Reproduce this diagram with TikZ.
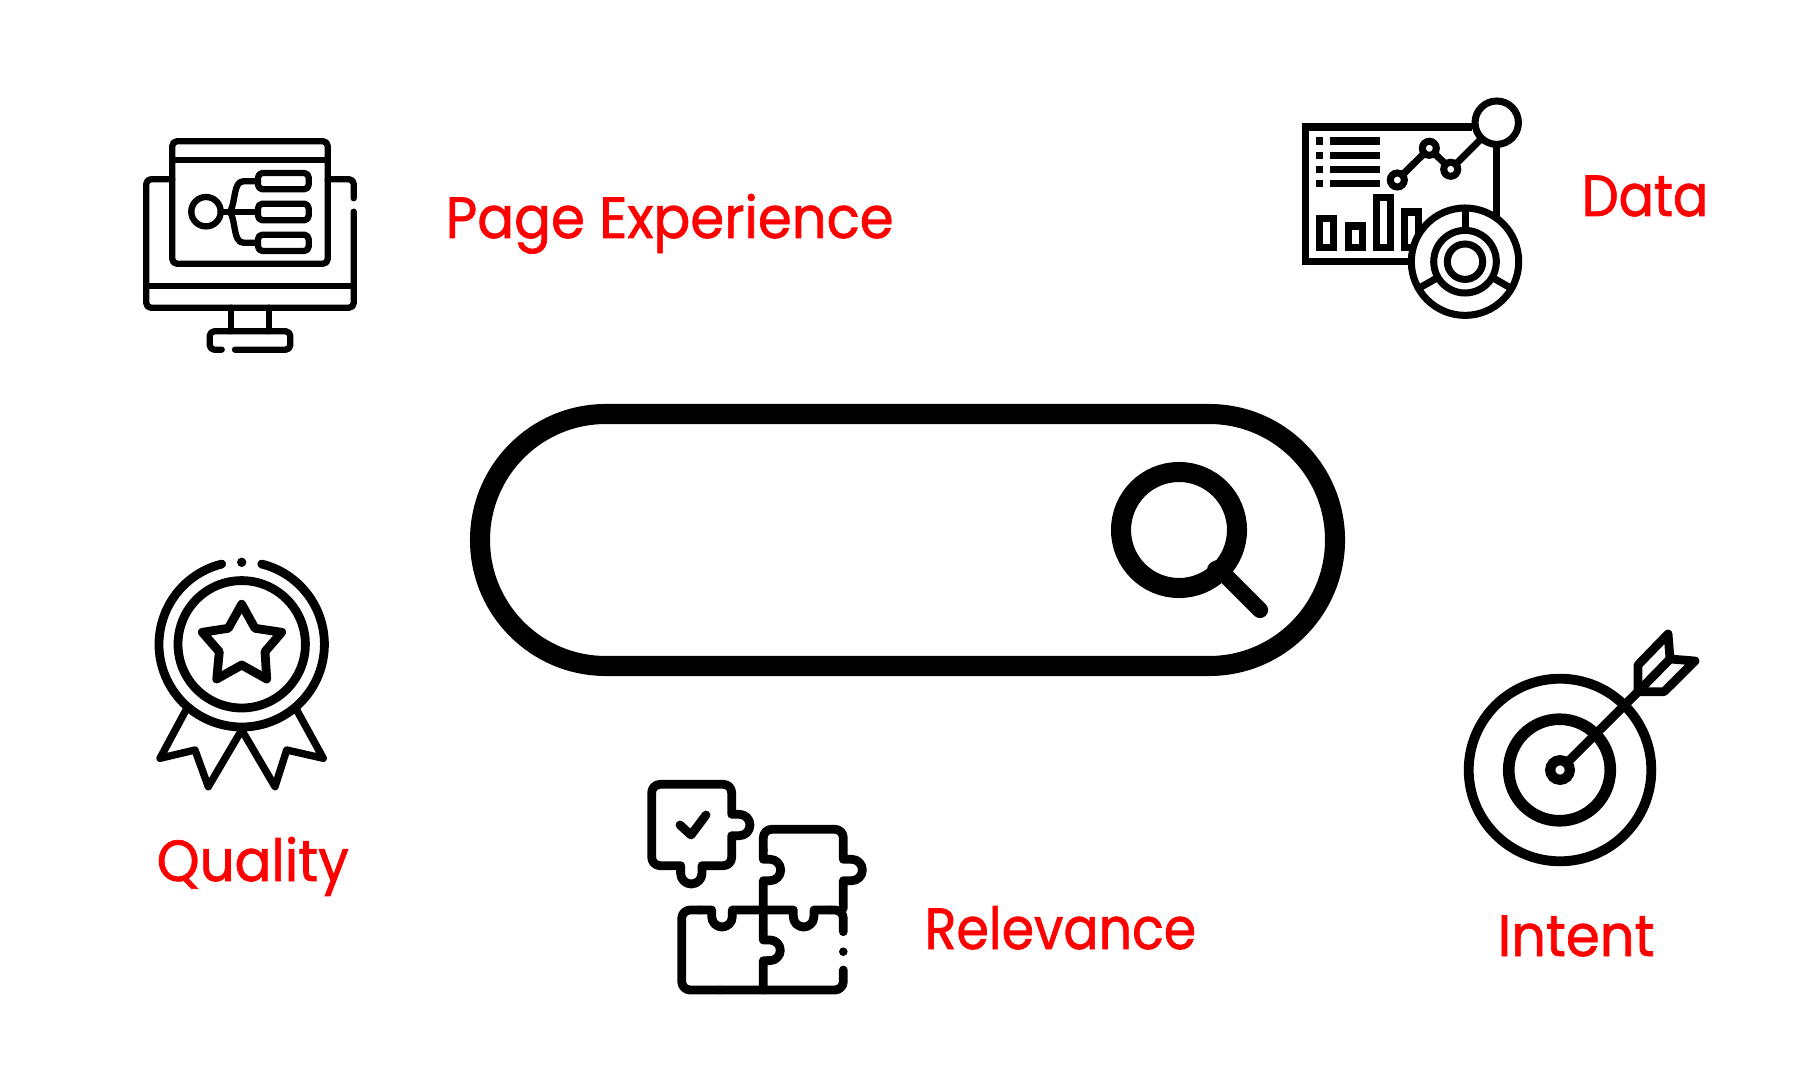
\documentclass[tikz,border=0pt]{standalone}
\usepackage{fontspec}
\newfontfamily\labelfont{Poppins}[FakeStretch=0.94,FakeBold=1.2]
\newfontfamily\narrowfont{Poppins}[FakeStretch=0.9,FakeBold=1.2]
\definecolor{labelred}{RGB}{254,0,0}
\tikzset{
  lbl/.style={text=labelred,font=\labelfont\fontsize{16.5}{20}\selectfont,inner sep=0pt,anchor=base west},
  narrow lbl/.style={lbl,font=\narrowfont\fontsize{16.5}{20}\selectfont},
  thin icon/.style={line width=1.8pt,line cap=round,line join=round,rounded corners=1.3pt},
  icon/.style={line width=2.5pt,line cap=round,line join=round},
  bar/.style={line width=2pt}
}
\begin{document}
\begin{tikzpicture}[x=0.01cm,y=-0.01cm]
  \useasboundingbox (0,0) rectangle (1816,1080);

  % search box
  \draw[line width=5.7pt,rounded corners=35.8pt] (480,414) rectangle (1335,666);
  \draw[line width=5.7pt] (1179,530) circle (58);
  \draw[line width=4.6pt,line cap=round] (1218,568) -- (1260,610);
  \fill (1216,570) circle (9);

  % page experience
  \draw[thin icon] (172.3,141.3) rectangle (327.7,263.7);
  \draw[thin icon] (172.3,160) -- (327.7,160);
  \draw[thin icon] (172.3,179.3) -- (146.3,179.3) -- (146.3,307.7) -- (353.7,307.7) -- (353.7,211.7);
  \draw[thin icon] (327.7,179.3) -- (353.7,179.3) -- (353.7,198.3);
  \draw[thin icon] (146.3,285.7) -- (353.7,285.7);
  \draw[thin icon] (231,307.7) -- (231,331.3);
  \draw[thin icon] (269,307.7) -- (269,331.3);
  \draw[thin icon] (221.7,349.7) -- (209.7,349.7) -- (209.7,331.3) -- (290.3,331.3) -- (290.3,349.7) -- (235,349.7);
  \draw[thin icon] (206,211.7) circle (14.7);
  \draw[thin icon] (258,173) rectangle (308.7,189.3);
  \draw[thin icon] (258,203.7) rectangle (308.7,220.3);
  \draw[thin icon] (258,234.7) rectangle (308.7,251);
  \draw[thin icon] (220.7,211.7) -- (258,211.7);
  \draw[thin icon] (230,211.7) .. controls (236,202) and (233,181.3) .. (248,181.3) -- (258,181.3);
  \draw[thin icon] (230,211.7) .. controls (236,221) and (233,242.7) .. (248,242.7) -- (258,242.7);

  % data
  \draw[bar] (1472,127) -- (1305.7,127) -- (1305.7,261.7) -- (1415,261.7);
  \draw[bar] (1496.7,144) -- (1496.7,220);
  \draw[bar] (1496.7,122.7) circle (21.7);
  \foreach \y in {141,155.3,169.3,183.7} {
    \draw[bar] (1316,\y) -- (1323.3,\y);
    \draw[bar] (1330.3,\y) -- (1380,\y);
  }
  \draw[bar] (1397.3,180) -- (1429.3,148.3) -- (1450.7,169.3) -- (1481,139);
  \draw[bar,fill=white] (1397.3,180) circle (7);
  \draw[bar,fill=white] (1429.3,148.3) circle (7);
  \draw[bar,fill=white] (1450.7,169.3) circle (7);
  \draw[bar] (1319.7,218.7) rectangle (1333.7,247.3);
  \draw[bar] (1348,226) rectangle (1362,247.3);
  \draw[bar] (1376.3,197.7) rectangle (1390.3,247.3);
  \draw[bar] (1404.7,212) rectangle (1418.7,247.3);
  \draw[bar,fill=white] (1465,261.7) circle (53.7);
  \draw[bar] (1465,261.7) circle (31.3);
  \draw[bar] (1465,261.7) circle (17.7);
  \draw[bar] (1465,208) -- (1465,230.4);
  \draw[bar] (1437.9,277.4) -- (1418.5,288.5);
  \draw[bar] (1492.1,277.4) -- (1511.5,288.5);

  % quality
  \draw[icon] (241.7,644.3) ++(284:82.7) arc[start angle=284,end angle=616,radius=82.7];
  \fill (241.7,562.3) circle (4.7);
  \draw[icon] (241.7,644.3) circle (63.7);
  \draw[icon] (241.7,604.3) -- (255,628.3) -- (281.7,632.3) -- (265,651.7) -- (266.7,679) -- (241.7,665) -- (216.7,679) -- (219.3,651.7) -- (202.3,632.3) -- (228.3,628.3) -- cycle;
  \draw[icon,line width=2.1pt] (186,710) -- (160,758.3) -- (195,750) -- (208.3,786.7) -- (241.7,730) -- (275,786.7) -- (286.7,750) -- (323.3,758.3) -- (296.7,710);

  % relevance
  \draw[icon,rounded corners=2.4pt] (651.7,825) -- (651.7,784.3) -- (731.7,784.3) [sharp corners] -- (731.7,814.3) -- (739.3,814.3) arc[start angle=270,end angle=450,radius=10.7] -- (731.7,835.7) [rounded corners=2.4pt] -- (731.7,865.7) [sharp corners] -- (702,865.7) -- (702,873.3) arc[start angle=0,end angle=180,radius=10.7] -- (680.7,865.7) [rounded corners=2.4pt] -- (651.7,865.7) -- (651.7,825);
  \draw[icon] (680,825) -- (691,835) -- (706,815);
  \draw[icon,rounded corners=2.4pt] (763.3,850) -- (763.3,829.3) -- (843.3,829.3) [sharp corners] -- (843.3,859.3) -- (851.7,859.3) arc[start angle=270,end angle=450,radius=10.7] -- (843.3,880.7) -- (843.3,908.3);
  \draw[icon] (763.3,850) -- (763.3,859.3) -- (770,859.3) arc[start angle=-90,end angle=90,radius=10.7] -- (763.3,880.7) -- (763.3,940) -- (770,940) arc[start angle=-90,end angle=90,radius=10.3] -- (763.3,960.7) -- (763.3,990);
  \draw[icon,rounded corners=2.4pt] (700,910) -- (681.7,910) -- (681.7,990) -- (720,990);
  \draw[icon] (700,910) -- (711.7,910) -- (711.7,916.7) arc[start angle=180,end angle=0,radius=10.3] -- (732.3,910) -- (793.3,910) -- (793.3,916.7) arc[start angle=180,end angle=0,radius=10.3] -- (814,910) -- (830,910);
  \draw[icon,rounded corners=2.4pt] (830,910) -- (843.3,910) -- (843.3,931.7);
  \fill (843.3,951.7) circle (4.3);
  \draw[icon,rounded corners=2.4pt] (843.3,970) -- (843.3,990) -- (720,990);

  % intent
  \draw[line width=2.8pt] (1560,770) circle (91.3);
  \draw[line width=3.3pt] (1559.5,770) circle (50.8);
  \draw[line width=2.9pt] (1560,770) circle (9.8);
  \draw[icon,line width=2.6pt] (1568,761.7) -- (1638,691.7);
  \draw[icon] (1638,691.7) -- (1638,665) -- (1668,634) -- (1670,659) -- (1695,661) -- (1664,691.7) -- cycle;
  \draw[icon] (1638,691.7) -- (1670,659);

  % labels
  \node[lbl] (pagelbl) at (445,238) {Page Experience};
  \node[narrow lbl] (datalbl) at (1581,216) {Data};
  \node[lbl] (qualbl) at (156,881) {Quality};
  \node[narrow lbl] (rellbl) at (924,949) {Relevance};
  \node[lbl] (intlbl) at (1497,956) {Intent};
\end{tikzpicture}
\end{document}
